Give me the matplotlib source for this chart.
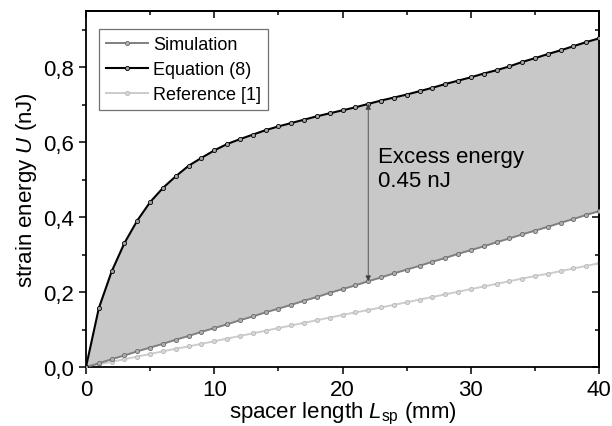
import matplotlib

matplotlib.use("Agg")

import matplotlib.pyplot as plt
from matplotlib.ticker import MultipleLocator, FuncFormatter

plt.rcParams["font.family"] = ["Liberation Sans", "DejaVu Sans"]
plt.rcParams["mathtext.fontset"] = "custom"
plt.rcParams["mathtext.rm"] = "Liberation Sans"
plt.rcParams["mathtext.it"] = "Liberation Sans:italic"

# spacer length (mm)
length = list(range(0, 41))

# strain energy (nJ)
simulation = [0.000, 0.010, 0.021, 0.031, 0.042, 0.052, 0.062, 0.073, 0.083, 0.094,
              0.104, 0.114, 0.125, 0.135, 0.146, 0.156, 0.166, 0.177, 0.187, 0.198,
              0.208, 0.218, 0.229, 0.239, 0.250, 0.260, 0.270, 0.281, 0.291, 0.302,
              0.312, 0.322, 0.333, 0.343, 0.354, 0.364, 0.374, 0.385, 0.395, 0.406,
              0.416]
equation = [0.000, 0.157, 0.255, 0.331, 0.391, 0.440, 0.478, 0.509, 0.537, 0.558,
            0.578, 0.595, 0.608, 0.620, 0.632, 0.642, 0.651, 0.660, 0.669, 0.677,
            0.685, 0.693, 0.702, 0.711, 0.719, 0.727, 0.736, 0.745, 0.755, 0.764,
            0.773, 0.783, 0.792, 0.802, 0.814, 0.824, 0.835, 0.845, 0.856, 0.867,
            0.877]
reference = [0.000, 0.007, 0.014, 0.021, 0.028, 0.035, 0.042, 0.049, 0.055, 0.062,
             0.069, 0.076, 0.083, 0.090, 0.097, 0.104, 0.111, 0.118, 0.125, 0.132,
             0.139, 0.146, 0.152, 0.159, 0.166, 0.173, 0.180, 0.187, 0.194, 0.201,
             0.208, 0.215, 0.222, 0.229, 0.236, 0.243, 0.249, 0.256, 0.263, 0.270,
             0.277]

arrow_x = 22
excess_label = "Excess energy\n0.45 nJ"

fig = plt.figure(figsize=(6.12, 4.27), dpi=100)
ax = fig.add_axes([0.1405, 0.138, 0.8385, 0.834])

ax.fill_between(length, simulation, equation, color="#c8c8c8", lw=0, zorder=1)

ax.plot(length, simulation, color="#808080", lw=1.4, marker="o", ms=3.0,
        mfc="#b0b0b0", mec="#6a6a6a", mew=0.6, label="Simulation", zorder=3)
ax.plot(length, equation, color="black", lw=1.5, marker="o", ms=3.0,
        mfc="#a0a0a0", mec="black", mew=0.6, label="Equation (8)", zorder=4)
ax.plot(length, reference, color="#cccccc", lw=1.4, marker="o", ms=3.0,
        mfc="#d8d8d8", mec="#b8b8b8", mew=0.6, label="Reference [1]", zorder=2)

i = length.index(arrow_x)
ax.annotate("", xy=(arrow_x, simulation[i]), xytext=(arrow_x, equation[i]),
            arrowprops=dict(arrowstyle="<|-|>", color="#404040", lw=0.6,
                            mutation_scale=8, shrinkA=0, shrinkB=0), zorder=5)
ax.text(22.8, 0.59, excess_label, fontsize=16, va="top", ha="left",
        linespacing=1.2, zorder=6)

ax.set_xlim(0, 40)
ax.set_ylim(0, 0.95)
ax.xaxis.set_major_locator(MultipleLocator(10))
ax.xaxis.set_minor_locator(MultipleLocator(5))
ax.yaxis.set_major_locator(MultipleLocator(0.2))
ax.yaxis.set_minor_locator(MultipleLocator(0.1))
ax.yaxis.set_major_formatter(FuncFormatter(lambda v, p: f"{v:.1f}".replace(".", ",")))
ax.tick_params(which="both", direction="out", labelsize=16, width=1.1)
ax.tick_params(which="major", length=5)
ax.tick_params(which="minor", length=3)
for s in ax.spines.values():
    s.set_linewidth(1.3)

top = ax.secondary_xaxis("top")
top.xaxis.set_major_locator(MultipleLocator(10))
top.xaxis.set_minor_locator(MultipleLocator(5))
top.tick_params(which="both", direction="in", labeltop=False, width=1.1)
top.tick_params(which="major", length=5)
top.tick_params(which="minor", length=3)
right = ax.secondary_yaxis("right")
right.yaxis.set_major_locator(MultipleLocator(0.2))
right.yaxis.set_minor_locator(MultipleLocator(0.1))
right.tick_params(which="both", direction="in", labelright=False, width=1.1)
right.tick_params(which="major", length=5)
right.tick_params(which="minor", length=3)
top.spines["top"].set_linewidth(1.3)
right.spines["right"].set_linewidth(1.3)

ax.set_xlabel(r"spacer length $L_{\rm sp}$ (mm)", fontsize=16, labelpad=0)
ax.set_ylabel(r"strain energy $U$ (nJ)", fontsize=16, labelpad=3)

leg = ax.legend(loc="upper left", bbox_to_anchor=(0.025, 0.95), fontsize=13,
                handlelength=2.3, handletextpad=0.3, labelspacing=0.45,
                borderaxespad=0, borderpad=0.4, numpoints=1, fancybox=False,
                framealpha=1)
leg.get_frame().set_edgecolor("#707070")
leg.get_frame().set_linewidth(0.9)

fig.savefig("out.png", dpi=100)
